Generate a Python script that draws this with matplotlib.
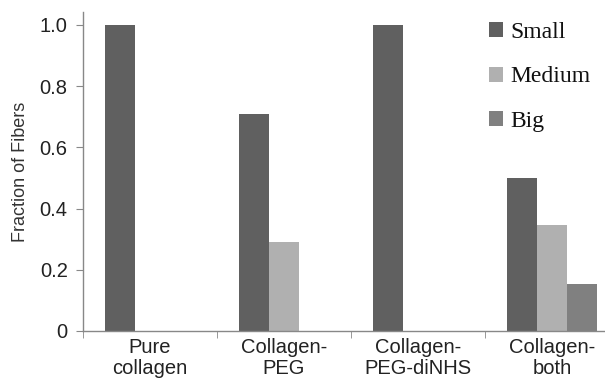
import numpy as np
import matplotlib.pyplot as plt

categories = ["Pure\ncollagen", "Collagen-\nPEG", "Collagen-\nPEG-diNHS", "Collagen-\nboth"]
small = [1.0, 0.71, 1.0, 0.50]
medium = [0.0, 0.29, 0.0, 0.346]
big = [0.0, 0.0, 0.0, 0.155]
series_names = ["Small", "Medium", "Big"]
colors = ["#606060", "#b0b0b0", "#808080"]

fig = plt.figure(figsize=(6.05, 3.81), dpi=100)
ax = fig.add_axes([83 / 605, 50 / 381, 536 / 605, 319 / 381])

x = np.arange(len(categories))
w = 0.224
for i, (vals, name) in enumerate(zip([small, medium, big], series_names)):
    ax.bar(x + (i - 1) * w, vals, width=w, color=colors[i], label=name)

ax.set_xlim(-0.5, 3.5)
ax.set_ylim(0, 1.042)
ax.set_yticks([0, 0.2, 0.4, 0.6, 0.8, 1.0])
ax.set_yticklabels(["0", "0.2", "0.4", "0.6", "0.8", "1.0"],
                   family="Liberation Sans", fontsize=14.5, color="#222222")
ax.set_xticks(x)
ax.set_xticklabels(categories, family="Liberation Sans", fontsize=14.5,
                   color="#222222", linespacing=1.15)
ax.set_xticks(np.arange(-0.5, 4, 1), minor=True)
ax.tick_params(axis="x", which="major", length=0, pad=5)
ax.tick_params(axis="x", which="minor", length=5, color="#888888")
ax.tick_params(axis="y", length=5, color="#888888", pad=6)
ax.set_ylabel("Fraction of Fibers", family="Liberation Sans", fontsize=13,
              color="#333333", labelpad=8)

for s in ["top", "right"]:
    ax.spines[s].set_visible(False)
for s in ["left", "bottom"]:
    ax.spines[s].set_color("#888888")
    ax.spines[s].set_linewidth(1)

leg = ax.legend(loc="upper left", bbox_to_anchor=(0.718, 1.036), frameon=False,
                prop={"family": "Liberation Serif", "size": 17},
                handlelength=0.6, handleheight=0.6, handletextpad=0.3,
                labelspacing=1.0)
for t in leg.get_texts():
    t.set_color("#111111")

fig.savefig("out.png", dpi=100)
